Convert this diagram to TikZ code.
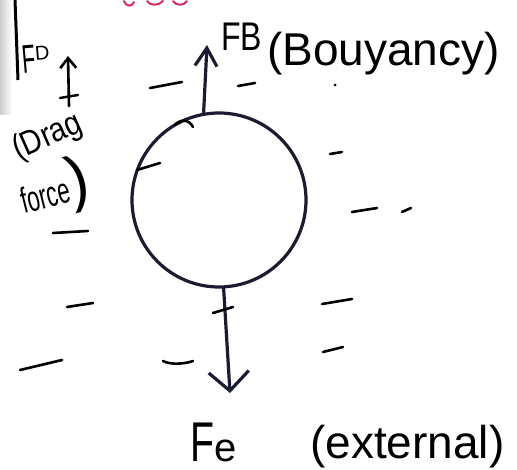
\documentclass[tikz,border=0pt]{standalone}
\usepackage{fontspec}
\setmainfont{Liberation Sans}
\usetikzlibrary{arrows.meta}
\definecolor{inkc}{HTML}{1C1C30}
\definecolor{penred}{HTML}{D03068}
\begin{document}
\begin{tikzpicture}[x=1pt,y=1pt,
  ink/.style={line width=3.2pt, line cap=round, line join=round, draw=inkc},
  dashmark/.style={line width=2.6pt, line cap=round, draw=black},
  lab/.style={anchor=base west, inner sep=0pt, text=black}
]
\useasboundingbox (0,0) rectangle (517,-470);
\fill[white] (0,0) rectangle (517,-470);
% paper edge
\shade[left color=gray!40, right color=white] (0,0) rectangle (12,-115);
\draw[line width=3pt, black] (15,0) -- (18,-80);
% red marks cut at the top
\draw[penred, line width=2pt, line cap=round] (124,-1) .. controls (126,-7) and (132,-7) .. (134,-2);
\draw[penred, line width=2pt, line cap=round] (147,-1) .. controls (150,-6) and (159,-6) .. (163,-1);
\draw[penred, line width=2pt, line cap=round] (173,-1) .. controls (176,-6) and (184,-6) .. (187,-1);
% ball
\node[ink, circle, minimum size=174pt, inner sep=0pt] (ball) at (219,-200) {};
\coordinate (fbtip) at (207,-45);
\coordinate (fetip) at (230,-393);
% force arrows
\draw[ink, -{Straight Barb[length=18pt,width=22pt]}] (ball.100) -- (fbtip);
\draw[ink, -{Straight Barb[length=19pt,width=40pt]}] (ball.-87) -- (fetip);
% labels
\node[lab, font=\fontsize{40}{40}\selectfont] (fb) at (221,-51) {\scalebox{0.8}[1]{FB}};
\node[lab, font=\fontsize{46}{46}\selectfont] (buoy) at (267,-66) {(Bouyancy)};
\node[lab, font=\fontsize{56}{56}\selectfont] (fe) at (190,-461) {\scalebox{0.7}[1]{F}\fontsize{40}{40}\selectfont e};
\node[lab, font=\fontsize{46}{46}\selectfont] (ext) at (310,-458) {(external)};
% drag force
\node[lab, font=\fontsize{40}{40}\selectfont, rotate=5] (fd) at (23,-74) {\scalebox{0.55}[1]{F}\fontsize{20}{20}\selectfont\raisebox{12pt}{D}};
\coordinate (fdbot) at (69,-106);
\coordinate (fdtip) at (68,-56);
\draw[line width=2.6pt, line cap=round, black, -{Straight Barb[length=10pt,width=16pt]}] (fdbot) -- (fdtip);
\draw[line width=2.4pt, line cap=round] (60,-98) -- (78,-95);
\node[lab, font=\fontsize{34}{34}\selectfont, rotate=24] (drag) at (18,-160) {\scalebox{0.85}[1]{(Drag}};
\node[lab, font=\fontsize{36}{36}\selectfont, rotate=14] (force) at (24,-214) {\scalebox{0.62}[1]{force}{\fontsize{62}{62}\selectfont)}};
% fluid marks
\draw[dashmark] (150,-88) -- (182,-82);
\draw[dashmark] (238,-86) -- (255,-83);
\fill (335,-85) circle (1.5pt);
\draw[dashmark] (53,-233) -- (88,-231);
\draw[dashmark] (175,-125) .. controls (180,-119) and (189,-119) .. (193,-127);
\draw[dashmark] (137,-170) -- (160,-163);
\draw[dashmark] (330,-154) -- (342,-152);
\draw[dashmark] (352,-212) -- (377,-208);
\draw[dashmark] (402,-212) -- (411,-208);
\draw[dashmark] (322,-304) -- (352,-299);
\draw[dashmark] (323,-352) -- (343,-347);
\draw[dashmark] (67,-307) -- (93,-303);
\draw[dashmark] (20,-370) -- (62,-360);
\draw[dashmark] (163,-361) .. controls (170,-365) and (185,-364) .. (193,-361);
\draw[dashmark] (213,-313) -- (233,-307);
\end{tikzpicture}
\end{document}
